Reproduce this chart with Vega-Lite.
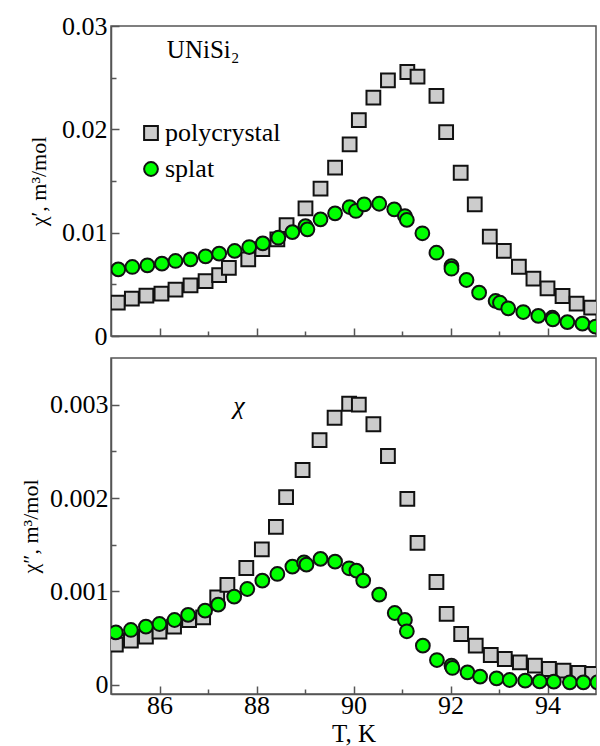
{
  "$schema": "https://vega.github.io/schema/vega-lite/v6.json",
  "background": "white",
  "padding": {"left": 18, "top": 12, "right": 3, "bottom": 0},
  "config": {
    "font": "Liberation Serif",
    "view": {"stroke": "#555555", "strokeWidth": 1.5},
    "axis": {
      "grid": false,
      "domainColor": "#555555",
      "domainWidth": 1.5,
      "tickColor": "#555555",
      "tickWidth": 1.5,
      "labelColor": "#000000",
      "labelFont": "Liberation Serif",
      "labelFontSize": 26,
      "titleFont": "Liberation Serif",
      "titleFontSize": 22,
      "titleFontWeight": "normal",
      "titleColor": "#000000"
    },
    "legend": {
      "labelFont": "Liberation Serif",
      "labelFontSize": 26,
      "labelColor": "#000000",
      "symbolSize": 190,
      "symbolStrokeWidth": 2,
      "rowPadding": 10,
      "labelOffset": 1
    },
    "concat": {"spacing": 7}
  },
  "resolve": {
    "scale": {"x": "independent", "y": "independent", "fill": "independent", "shape": "independent", "stroke": "independent"},
    "legend": {"fill": "independent", "shape": "independent", "stroke": "independent"}
  },
  "vconcat": [
    {
      "width": 485,
      "height": 310,
      "layer": [
        {
          "data": {"values": [
            {"T": 85.14, "chi": 0.00322, "sample": "polycrystal"},
            {"T": 85.43, "chi": 0.00361, "sample": "polycrystal"},
            {"T": 85.73, "chi": 0.0039, "sample": "polycrystal"},
            {"T": 86.04, "chi": 0.0041, "sample": "polycrystal"},
            {"T": 86.33, "chi": 0.00448, "sample": "polycrystal"},
            {"T": 86.64, "chi": 0.0049, "sample": "polycrystal"},
            {"T": 86.95, "chi": 0.00532, "sample": "polycrystal"},
            {"T": 87.23, "chi": 0.0059, "sample": "polycrystal"},
            {"T": 87.43, "chi": 0.0066, "sample": "polycrystal"},
            {"T": 87.83, "chi": 0.00742, "sample": "polycrystal"},
            {"T": 88.12, "chi": 0.0084, "sample": "polycrystal"},
            {"T": 88.43, "chi": 0.00936, "sample": "polycrystal"},
            {"T": 88.62, "chi": 0.01074, "sample": "polycrystal"},
            {"T": 89.01, "chi": 0.01236, "sample": "polycrystal"},
            {"T": 89.32, "chi": 0.01426, "sample": "polycrystal"},
            {"T": 89.62, "chi": 0.01629, "sample": "polycrystal"},
            {"T": 89.92, "chi": 0.01855, "sample": "polycrystal"},
            {"T": 90.11, "chi": 0.0209, "sample": "polycrystal"},
            {"T": 90.41, "chi": 0.02306, "sample": "polycrystal"},
            {"T": 90.71, "chi": 0.02474, "sample": "polycrystal"},
            {"T": 91.11, "chi": 0.02555, "sample": "polycrystal"},
            {"T": 91.32, "chi": 0.0251, "sample": "polycrystal"},
            {"T": 91.71, "chi": 0.02323, "sample": "polycrystal"},
            {"T": 91.91, "chi": 0.01974, "sample": "polycrystal"},
            {"T": 92.21, "chi": 0.0158, "sample": "polycrystal"},
            {"T": 92.5, "chi": 0.01274, "sample": "polycrystal"},
            {"T": 92.81, "chi": 0.00961, "sample": "polycrystal"},
            {"T": 93.1, "chi": 0.00823, "sample": "polycrystal"},
            {"T": 93.41, "chi": 0.0067, "sample": "polycrystal"},
            {"T": 93.71, "chi": 0.00555, "sample": "polycrystal"},
            {"T": 94.0, "chi": 0.00461, "sample": "polycrystal"},
            {"T": 94.31, "chi": 0.00387, "sample": "polycrystal"},
            {"T": 94.6, "chi": 0.00313, "sample": "polycrystal"},
            {"T": 94.9, "chi": 0.00274, "sample": "polycrystal"},
            {"T": 85.15, "chi": 0.00645, "sample": "splat"},
            {"T": 85.44, "chi": 0.00668, "sample": "splat"},
            {"T": 85.75, "chi": 0.00684, "sample": "splat"},
            {"T": 86.05, "chi": 0.007, "sample": "splat"},
            {"T": 86.33, "chi": 0.00726, "sample": "splat"},
            {"T": 86.64, "chi": 0.00742, "sample": "splat"},
            {"T": 86.95, "chi": 0.00771, "sample": "splat"},
            {"T": 87.23, "chi": 0.00797, "sample": "splat"},
            {"T": 87.55, "chi": 0.00823, "sample": "splat"},
            {"T": 87.85, "chi": 0.00861, "sample": "splat"},
            {"T": 88.13, "chi": 0.00897, "sample": "splat"},
            {"T": 88.45, "chi": 0.00951, "sample": "splat"},
            {"T": 88.74, "chi": 0.01006, "sample": "splat"},
            {"T": 89.01, "chi": 0.01064, "sample": "splat"},
            {"T": 89.05, "chi": 0.01032, "sample": "splat"},
            {"T": 89.32, "chi": 0.01129, "sample": "splat"},
            {"T": 89.62, "chi": 0.01187, "sample": "splat"},
            {"T": 89.92, "chi": 0.01248, "sample": "splat"},
            {"T": 90.05, "chi": 0.0121, "sample": "splat"},
            {"T": 90.22, "chi": 0.01274, "sample": "splat"},
            {"T": 90.53, "chi": 0.0128, "sample": "splat"},
            {"T": 90.84, "chi": 0.01226, "sample": "splat"},
            {"T": 91.06, "chi": 0.01161, "sample": "splat"},
            {"T": 91.1, "chi": 0.01123, "sample": "splat"},
            {"T": 91.42, "chi": 0.00994, "sample": "splat"},
            {"T": 91.71, "chi": 0.00806, "sample": "splat"},
            {"T": 92.02, "chi": 0.00677, "sample": "splat"},
            {"T": 92.02, "chi": 0.00651, "sample": "splat"},
            {"T": 92.33, "chi": 0.00542, "sample": "splat"},
            {"T": 92.59, "chi": 0.00419, "sample": "splat"},
            {"T": 92.93, "chi": 0.00339, "sample": "splat"},
            {"T": 93.02, "chi": 0.00322, "sample": "splat"},
            {"T": 93.19, "chi": 0.00268, "sample": "splat"},
            {"T": 93.5, "chi": 0.00232, "sample": "splat"},
            {"T": 93.81, "chi": 0.00194, "sample": "splat"},
            {"T": 94.1, "chi": 0.00177, "sample": "splat"},
            {"T": 94.11, "chi": 0.00161, "sample": "splat"},
            {"T": 94.41, "chi": 0.00135, "sample": "splat"},
            {"T": 94.72, "chi": 0.00119, "sample": "splat"},
            {"T": 94.99, "chi": 0.0009, "sample": "splat"}
          ]},
          "mark": {"type": "point", "filled": true, "opacity": 1, "size": 190, "strokeWidth": 2, "clip": true},
          "encoding": {
            "x": {
              "field": "T", "type": "quantitative",
              "scale": {"domain": [85, 95], "nice": false, "zero": false},
              "axis": {"orient": "bottom", "values": [86, 88, 90, 92, 94], "labels": false, "tickSize": -8, "title": null}
            },
            "y": {
              "field": "chi", "type": "quantitative",
              "scale": {"domain": [0, 0.03], "nice": false},
              "axis": {"orient": "left", "values": [0, 0.01, 0.02, 0.03], "format": "~g", "tickSize": -8, "labelPadding": 12, "title": "χ′, m³/mol", "titlePadding": 11}
            },
            "shape": {
              "field": "sample", "type": "nominal",
              "scale": {"domain": ["polycrystal", "splat"], "range": ["square", "circle"]},
              "legend": {"title": null, "orient": "none", "legendX": 27, "legendY": 94}
            },
            "fill": {
              "field": "sample", "type": "nominal",
              "scale": {"domain": ["polycrystal", "splat"], "range": ["#cccccc", "#00ff00"]},
              "legend": {"title": null, "orient": "none", "legendX": 27, "legendY": 94}
            },
            "stroke": {
              "field": "sample", "type": "nominal",
              "scale": {"domain": ["polycrystal", "splat"], "range": ["#111111", "#111111"]},
              "legend": {"title": null, "orient": "none", "legendX": 27, "legendY": 94}
            }
          }
        },
        {
          "data": {"values": [{"T": 86.9, "chi": 0.0277, "label": "UNiSi₂"}]},
          "mark": {"type": "text", "fontSize": 25, "font": "Liberation Serif", "color": "#000000"},
          "encoding": {
            "x": {
              "field": "T", "type": "quantitative",
              "axis": {"orient": "bottom", "values": [87, 89, 91, 93], "labels": false, "domain": false, "tickSize": -5, "title": null}
            },
            "y": {
              "field": "chi", "type": "quantitative",
              "axis": {"orient": "left", "values": [0.005, 0.015, 0.025], "labels": false, "domain": false, "tickSize": -5, "title": null}
            },
            "text": {"field": "label"}
          }
        }
      ],
      "resolve": {"axis": {"x": "independent", "y": "independent"}}
    },
    {
      "width": 485,
      "height": 336,
      "layer": [
        {
          "data": {"values": [
            {"T": 85.1, "chi": 0.000429, "sample": "polycrystal"},
            {"T": 85.41, "chi": 0.000472, "sample": "polycrystal"},
            {"T": 85.72, "chi": 0.000514, "sample": "polycrystal"},
            {"T": 86.0, "chi": 0.000568, "sample": "polycrystal"},
            {"T": 86.3, "chi": 0.000622, "sample": "polycrystal"},
            {"T": 86.61, "chi": 0.000693, "sample": "polycrystal"},
            {"T": 86.9, "chi": 0.000722, "sample": "polycrystal"},
            {"T": 87.19, "chi": 0.000936, "sample": "polycrystal"},
            {"T": 87.4, "chi": 0.00107, "sample": "polycrystal"},
            {"T": 87.79, "chi": 0.00125, "sample": "polycrystal"},
            {"T": 88.11, "chi": 0.00145, "sample": "polycrystal"},
            {"T": 88.4, "chi": 0.00169, "sample": "polycrystal"},
            {"T": 88.61, "chi": 0.00201, "sample": "polycrystal"},
            {"T": 88.95, "chi": 0.0023, "sample": "polycrystal"},
            {"T": 89.3, "chi": 0.00262, "sample": "polycrystal"},
            {"T": 89.61, "chi": 0.00286, "sample": "polycrystal"},
            {"T": 89.91, "chi": 0.00301, "sample": "polycrystal"},
            {"T": 90.11, "chi": 0.003, "sample": "polycrystal"},
            {"T": 90.41, "chi": 0.00279, "sample": "polycrystal"},
            {"T": 90.71, "chi": 0.00245, "sample": "polycrystal"},
            {"T": 91.11, "chi": 0.00199, "sample": "polycrystal"},
            {"T": 91.32, "chi": 0.00152, "sample": "polycrystal"},
            {"T": 91.71, "chi": 0.0011, "sample": "polycrystal"},
            {"T": 91.92, "chi": 0.000758, "sample": "polycrystal"},
            {"T": 92.22, "chi": 0.000543, "sample": "polycrystal"},
            {"T": 92.52, "chi": 0.000418, "sample": "polycrystal"},
            {"T": 92.83, "chi": 0.000318, "sample": "polycrystal"},
            {"T": 93.12, "chi": 0.000275, "sample": "polycrystal"},
            {"T": 93.43, "chi": 0.000239, "sample": "polycrystal"},
            {"T": 93.74, "chi": 0.000204, "sample": "polycrystal"},
            {"T": 94.03, "chi": 0.000168, "sample": "polycrystal"},
            {"T": 94.33, "chi": 0.00015, "sample": "polycrystal"},
            {"T": 94.64, "chi": 0.000125, "sample": "polycrystal"},
            {"T": 94.92, "chi": 0.000115, "sample": "polycrystal"},
            {"T": 85.1, "chi": 0.00056, "sample": "splat"},
            {"T": 85.41, "chi": 0.000586, "sample": "splat"},
            {"T": 85.72, "chi": 0.000622, "sample": "splat"},
            {"T": 86.0, "chi": 0.00065, "sample": "splat"},
            {"T": 86.31, "chi": 0.000693, "sample": "splat"},
            {"T": 86.59, "chi": 0.000747, "sample": "splat"},
            {"T": 86.94, "chi": 0.000793, "sample": "splat"},
            {"T": 87.21, "chi": 0.000857, "sample": "splat"},
            {"T": 87.54, "chi": 0.000943, "sample": "splat"},
            {"T": 87.81, "chi": 0.001025, "sample": "splat"},
            {"T": 88.12, "chi": 0.001115, "sample": "splat"},
            {"T": 88.43, "chi": 0.001186, "sample": "splat"},
            {"T": 88.74, "chi": 0.001265, "sample": "splat"},
            {"T": 88.98, "chi": 0.00131, "sample": "splat"},
            {"T": 89.03, "chi": 0.001286, "sample": "splat"},
            {"T": 89.32, "chi": 0.001347, "sample": "splat"},
            {"T": 89.62, "chi": 0.001318, "sample": "splat"},
            {"T": 89.91, "chi": 0.001247, "sample": "splat"},
            {"T": 90.06, "chi": 0.001222, "sample": "splat"},
            {"T": 90.2, "chi": 0.001115, "sample": "splat"},
            {"T": 90.53, "chi": 0.000965, "sample": "splat"},
            {"T": 90.85, "chi": 0.000768, "sample": "splat"},
            {"T": 91.06, "chi": 0.000693, "sample": "splat"},
            {"T": 91.1, "chi": 0.000572, "sample": "splat"},
            {"T": 91.43, "chi": 0.000418, "sample": "splat"},
            {"T": 91.72, "chi": 0.000264, "sample": "splat"},
            {"T": 92.02, "chi": 0.000204, "sample": "splat"},
            {"T": 92.04, "chi": 0.000179, "sample": "splat"},
            {"T": 92.35, "chi": 0.000132, "sample": "splat"},
            {"T": 92.61, "chi": 0.000086, "sample": "splat"},
            {"T": 92.95, "chi": 0.000068, "sample": "splat"},
            {"T": 93.22, "chi": 0.00005, "sample": "splat"},
            {"T": 93.54, "chi": 0.000043, "sample": "splat"},
            {"T": 93.84, "chi": 0.000035, "sample": "splat"},
            {"T": 94.13, "chi": 0.000032, "sample": "splat"},
            {"T": 94.46, "chi": 0.000025, "sample": "splat"},
            {"T": 94.74, "chi": 0.000025, "sample": "splat"},
            {"T": 95.03, "chi": 0.000025, "sample": "splat"}
          ]},
          "mark": {"type": "point", "filled": true, "opacity": 1, "size": 190, "stroke": "#111111", "strokeWidth": 2, "clip": true},
          "encoding": {
            "x": {
              "field": "T", "type": "quantitative",
              "scale": {"domain": [85, 95], "nice": false, "zero": false},
              "axis": {"orient": "bottom", "values": [86, 88, 90, 92, 94], "tickSize": -8, "labelPadding": 6, "title": "T, K", "titleFontSize": 25, "titlePadding": 3}
            },
            "y": {
              "field": "chi", "type": "quantitative",
              "scale": {"domain": [-0.0001, 0.0035], "nice": false, "zero": false},
              "axis": {"orient": "left", "values": [0, 0.001, 0.002, 0.003], "format": "~g", "tickSize": -8, "labelPadding": 11, "title": "χ″, m³/mol", "titlePadding": 7}
            },
            "shape": {
              "field": "sample", "type": "nominal",
              "scale": {"domain": ["polycrystal", "splat"], "range": ["square", "circle"]},
              "legend": null
            },
            "fill": {
              "field": "sample", "type": "nominal",
              "scale": {"domain": ["polycrystal", "splat"], "range": ["#cccccc", "#00ff00"]},
              "legend": null
            }
          }
        },
        {
          "data": {"values": [{"T": 87.64, "chi": 0.00299, "label": "χ"}]},
          "mark": {"type": "text", "fontSize": 26, "font": "Liberation Serif", "fontStyle": "italic", "color": "#000000"},
          "encoding": {
            "x": {
              "field": "T", "type": "quantitative",
              "axis": {"orient": "bottom", "values": [87, 89, 91, 93], "labels": false, "domain": false, "tickSize": -5, "title": null}
            },
            "y": {
              "field": "chi", "type": "quantitative",
              "axis": {"orient": "left", "values": [0.0005, 0.0015, 0.0025], "labels": false, "domain": false, "tickSize": -5, "title": null}
            },
            "text": {"field": "label"}
          }
        }
      ],
      "resolve": {"axis": {"x": "independent", "y": "independent"}}
    }
  ]
}
